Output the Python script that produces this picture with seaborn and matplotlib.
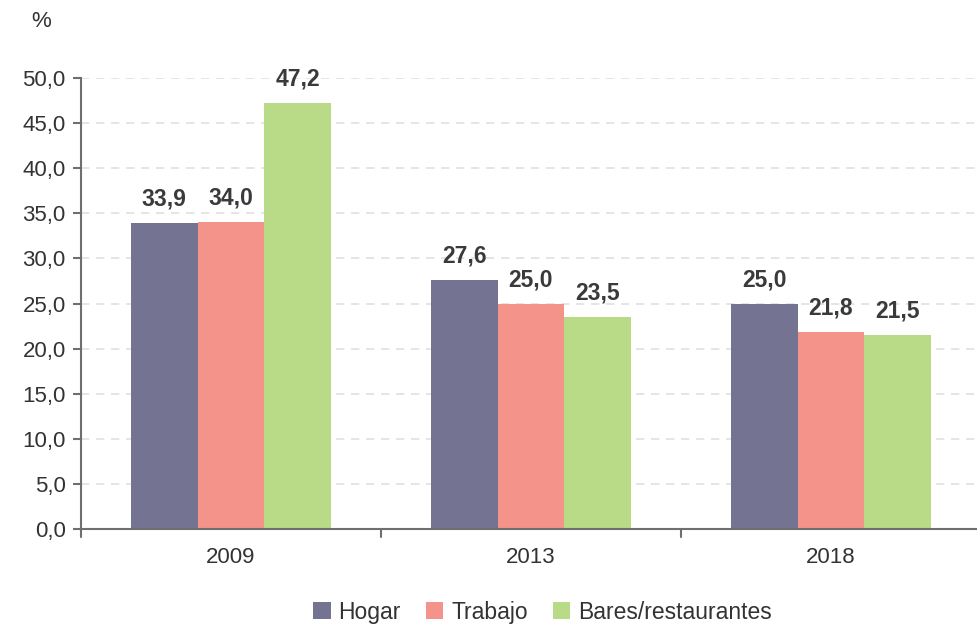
import pandas as pd
import matplotlib.pyplot as plt
import seaborn as sns

# Data
years = ['2009', '2013', '2018']
series = ['Hogar', 'Trabajo', 'Bares/restaurantes']
hogar = [33.9, 27.6, 25.0]
trabajo = [34.0, 25.0, 21.8]
bares = [47.2, 23.5, 21.5]
colors = ['#757392', '#f4938a', '#b9da87']

df = pd.DataFrame({
    'year': years * 3,
    'lugar': [series[0]] * 3 + [series[1]] * 3 + [series[2]] * 3,
    'value': hogar + trabajo + bares,
})

sns.set_style('white')
plt.rcParams['font.family'] = ['Liberation Sans', 'DejaVu Sans']

fig = plt.figure(figsize=(9.78, 6.28), dpi=100)
ax = fig.add_axes([0.0828, 0.1576, 0.9172, 0.7182])

sns.barplot(data=df, x='year', y='value', hue='lugar', hue_order=series,
            palette=colors, width=0.667, saturation=1, linewidth=0, ax=ax, legend=True)

# value labels
for cont in ax.containers:
    ax.bar_label(cont, labels=[f'{v:.1f}'.replace('.', ',') for v in cont.datavalues],
                 padding=9, fontsize=16.5, fontweight='bold', color='#3a3a3a')

ax.set_ylim(0, 50)
ax.set_xlim(-0.5, 2.49)
yt = [i * 5 for i in range(11)]
ax.set_yticks(yt)
ax.set_yticklabels([f'{v:.1f}'.replace('.', ',') for v in yt], fontsize=16, color='#333333')
ax.set_xticks([0, 1, 2])
ax.set_xticklabels(years, fontsize=16, color='#333333')
ax.tick_params(axis='x', length=0, pad=13)
ax.tick_params(axis='y', length=6, width=1.5, color='#6f6f6f', direction='out', left=True, pad=5)

# boundary ticks between categories
for xb in [-0.5, 0.5, 1.5]:
    ax.plot([xb, xb], [0, -0.018], transform=ax.get_xaxis_transform(),
            color='#6f6f6f', lw=1.5, clip_on=False)

ax.yaxis.grid(True, linestyle=(0, (5, 4)), color='#e0e0e0', lw=1.2)
ax.set_axisbelow(True)
for s in ['top', 'right']:
    ax.spines[s].set_visible(False)
for s in ['left', 'bottom']:
    ax.spines[s].set_color('#6f6f6f')
    ax.spines[s].set_linewidth(1.5)
ax.set_xlabel('')
ax.set_ylabel('')

ax.get_legend().remove()
handles, labels = ax.get_legend_handles_labels()
fig.legend(handles, labels, loc='center', bbox_to_anchor=(0.555, 0.025), ncol=3,
           frameon=False, fontsize=16.5, handlelength=0.75, handleheight=0.75,
           handletextpad=0.35, columnspacing=1.1, labelcolor='#333333')

fig.text(0.042, 0.965, '%', fontsize=16, color='#333333', ha='center', va='center')

fig.savefig('out.png', dpi=100)
